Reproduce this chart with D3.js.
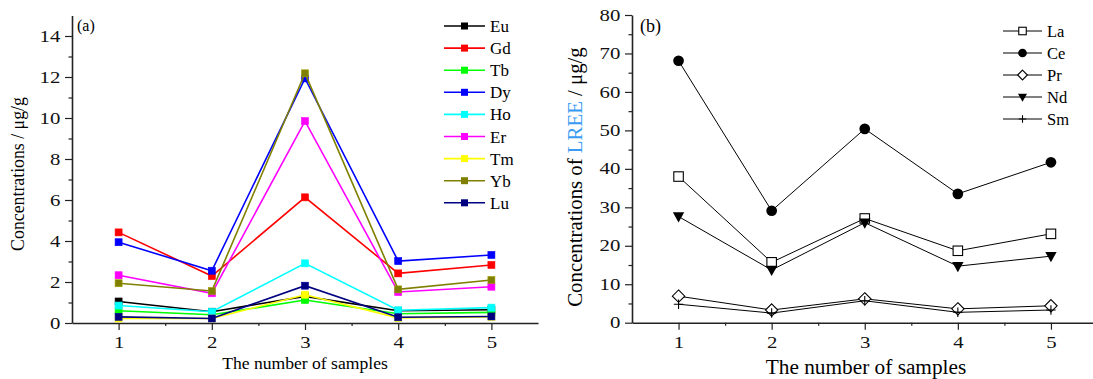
<!DOCTYPE html>
<meta charset="utf-8">
<script src="https://d3js.org/d3.v7.min.js"></script>
<style>
	body { margin: 0; background: #fff; }
	svg { display: block; font-family: "Liberation Serif", "Times New Roman", serif; }
	.axis path, .axis line { stroke: #222; }
	.axis path { stroke-width: 1.6px; }
	.axis line { stroke-width: 1.2px; }
	.axis text { fill: #111; font-family: "Liberation Serif", "Times New Roman", serif; }
</style>
<body>
	<div id="chart"></div>
</body>
<script>
	// samples on the x axis
	const samples = [1, 2, 3, 4, 5];
	const xTicks = [1, 2, 3, 4, 5];

	// (a) heavy REE, ug/g
	const hreeNames = ["Eu", "Gd", "Tb", "Dy", "Ho", "Er", "Tm", "Yb", "Lu"];
	const hreeColors = ["#000000", "#ff0000", "#00ff00", "#0000ff", "#00ffff", "#ff00ff", "#ffff00", "#808000", "#000080"];
	const Eu = [1.05, 0.55, 1.3, 0.6, 0.65];
	const Gd = [4.42, 2.29, 6.13, 2.42, 2.83];
	const Tb = [0.6, 0.4, 1.12, 0.45, 0.52];
	const Dy = [3.94, 2.55, 11.93, 3.02, 3.32];
	const Ho = [0.85, 0.55, 2.91, 0.62, 0.75];
	const Er = [2.33, 1.45, 9.85, 1.51, 1.77];
	const Tm = [0.22, 0.22, 1.38, 0.25, 0.3];
	const Yb = [1.94, 1.56, 12.18, 1.64, 2.1];
	const Lu = [0.3, 0.22, 1.82, 0.28, 0.32];
	const hreeValues = [Eu, Gd, Tb, Dy, Ho, Er, Tm, Yb, Lu];
	const yTicksA = [0, 2, 4, 6, 8, 10, 12, 14];

	// (b) light REE, ug/g
	const lreeNames = ["La", "Ce", "Pr", "Nd", "Sm"];
	const lreeSymbols = ["square", "circle", "diamond", "triangle", "plus"];
	const La = [38.0, 15.7, 27.1, 18.7, 23.1];
	const Ce = [68.1, 29.1, 50.4, 33.5, 41.7];
	const Pr = [6.9, 3.3, 6.2, 3.6, 4.4];
	const Nd = [27.6, 13.7, 26.0, 14.7, 17.3];
	const Sm = [4.8, 2.5, 5.7, 2.7, 3.3];
	const lreeValues = [La, Ce, Pr, Nd, Sm];
	const yTicksB = [0, 10, 20, 30, 40, 50, 60, 70, 80];

	const width = 1093, height = 379;

	const svg = d3.select("#chart").append("svg")
		.attr("width", width)
		.attr("height", height);

	svg.append("rect").attr("width", width).attr("height", height).attr("fill", "#fff");

	// tick labels in the figure are drawn a bit wide
	const stretch = 1.3;

	// draws the two axes with minor ticks
	function drawAxes(g, x, y, yTicks, yMinor, fontSize) {
		const xMinor = [1.5, 2.5, 3.5, 4.5];
		g.append("g").attr("class", "axis")
			.attr("transform", "translate(0," + y.range()[0] + ")")
			.call(d3.axisBottom(x).tickValues(xMinor).tickSize(3).tickFormat(""))
			.select(".domain").remove();
		g.append("g").attr("class", "axis")
			.attr("transform", "translate(0," + y.range()[0] + ")")
			.call(d3.axisBottom(x).tickValues(xTicks).tickFormat(d3.format("d"))
				.tickSize(7).tickSizeOuter(0).tickPadding(7))
			.selectAll("text")
			.style("font-size", fontSize + "px")
			.attr("transform", "scale(" + stretch + ",1)");
		g.append("g").attr("class", "axis")
			.attr("transform", "translate(" + x.range()[0] + ",0)")
			.call(d3.axisLeft(y).tickValues(yMinor).tickSize(3.5).tickFormat(""))
			.select(".domain").remove();
		g.append("g").attr("class", "axis")
			.attr("transform", "translate(" + x.range()[0] + ",0)")
			.call(d3.axisLeft(y).tickValues(yTicks).tickFormat(d3.format("d"))
				.tickSize(7).tickSizeOuter(0).tickPadding(2))
			.selectAll("text")
			.style("font-size", fontSize + "px")
			.attr("transform", "scale(" + stretch + ",1)");
	}

	// ---------- panel (a) ----------
	const xA = d3.scaleLinear().domain([0.5, 5.5]).range([72, 538]);
	const yA = d3.scaleLinear().domain([0, 15]).range([323, 15.5]);
	const gA = svg.append("g");

	drawAxes(gA, xA, yA, yTicksA, d3.range(1, 15, 2), 16);

	const lineA = d3.line()
		.x(function(d, i) { return xA(samples[i]); })
		.y(function(d) { return yA(d); });

	hreeValues.forEach(function(vals, k) {
		const s = gA.append("g");
		s.append("path")
			.attr("d", lineA(vals))
			.attr("fill", "none")
			.attr("stroke", hreeColors[k])
			.attr("stroke-width", 1.6);
		s.selectAll("rect")
			.data(vals)
			.enter().append("rect")
			.attr("x", function(d, i) { return xA(samples[i]) - 3.5; })
			.attr("y", function(d) { return yA(d) - 3.5; })
			.attr("width", 7)
			.attr("height", 7)
			.attr("fill", hreeColors[k])
			.attr("stroke", d3.color(hreeColors[k]).brighter(0.6))
			.attr("stroke-width", 0.6);
	});

	gA.append("text").attr("x", 77).attr("y", 31)
		.style("font-size", "16px").text("(a)");

	gA.append("text")
		.attr("transform", "translate(23.5,174) rotate(-90)")
		.attr("text-anchor", "middle")
		.style("font-size", "17.8px")
		.text("Concentrations / μg/g");

	gA.append("text")
		.attr("x", 305).attr("y", 369)
		.attr("text-anchor", "middle")
		.style("font-size", "17.6px")
		.text("The number of samples");

	// legend (a)
	const legA = gA.append("g").attr("transform", "translate(444,26)");
	hreeNames.forEach(function(name, k) {
		const row = legA.append("g").attr("transform", "translate(0," + (k * 22.1) + ")");
		row.append("line").attr("x1", 0).attr("x2", 41)
			.attr("stroke", hreeColors[k]).attr("stroke-width", 1.6);
		row.append("rect").attr("x", 17).attr("y", -3.5).attr("width", 7).attr("height", 7)
			.attr("fill", hreeColors[k]);
		row.append("text").attr("x", 46).attr("y", 6)
			.style("font-size", "17px").text(name);
	});

	// ---------- panel (b) ----------
	const xB = d3.scaleLinear().domain([0.5, 5.5]).range([632, 1097.5]);
	const yB = d3.scaleLinear().domain([0, 80]).range([322.7, 15]);
	const gB = svg.append("g");

	drawAxes(gB, xB, yB, yTicksB, d3.range(5, 80, 10), 16);

	const lineB = d3.line()
		.x(function(d, i) { return xB(samples[i]); })
		.y(function(d) { return yB(d); });

	// marker shapes, size in px
	function marker(sel, type, size) {
		if (type === "square") {
			sel.append("rect").attr("x", -size / 2).attr("y", -size / 2)
				.attr("width", size).attr("height", size)
				.attr("fill", "#fff").attr("stroke", "#000").attr("stroke-width", 1.1);
		} else if (type === "circle") {
			sel.append("circle").attr("r", size / 2 + 0.6).attr("fill", "#000");
		} else if (type === "diamond") {
			const h = size * 0.65;
			sel.append("path").attr("d", "M0," + (-h) + "L" + h + ",0L0," + h + "L" + (-h) + ",0Z")
				.attr("fill", "#fff").attr("stroke", "#000").attr("stroke-width", 1.1);
		} else if (type === "triangle") {
			const h = size * 0.6;
			sel.append("path").attr("d", "M" + (-h) + "," + (-h * 0.75) + "L" + h + "," + (-h * 0.75) + "L0," + (h * 1.05) + "Z")
				.attr("fill", "#000");
		} else {
			const h = size / 2;
			sel.append("path").attr("d", "M" + (-h) + ",0H" + h + "M0," + (-h) + "V" + h)
				.attr("stroke", "#000").attr("stroke-width", 1.1);
		}
	}

	lreeValues.forEach(function(vals, k) {
		const s = gB.append("g");
		s.append("path")
			.attr("d", lineB(vals))
			.attr("fill", "none")
			.attr("stroke", "#000")
			.attr("stroke-width", 1);
		vals.forEach(function(v, i) {
			const m = s.append("g").attr("transform", "translate(" + xB(samples[i]) + "," + yB(v) + ")");
			marker(m, lreeSymbols[k], 9.5);
		});
	});

	gB.append("text").attr("x", 640).attr("y", 32)
		.style("font-size", "18px").text("(b)");

	const titleB = gB.append("text")
		.attr("transform", "translate(582,177) rotate(-90)")
		.attr("text-anchor", "middle")
		.style("font-size", "20.8px");
	titleB.append("tspan").text("Concentrations of ");
	titleB.append("tspan").attr("fill", "#3a9bf2").text("LREE");
	titleB.append("tspan").text(" / μg/g");

	gB.append("text")
		.attr("x", 866).attr("y", 374)
		.attr("text-anchor", "middle")
		.style("font-size", "21.3px")
		.text("The number of samples");

	// legend (b)
	const legB = gB.append("g").attr("transform", "translate(1003,31)");
	lreeNames.forEach(function(name, k) {
		const row = legB.append("g").attr("transform", "translate(0," + (k * 22) + ")");
		row.append("line").attr("x1", 0).attr("x2", 39)
			.attr("stroke", "#000").attr("stroke-width", 1);
		marker(row.append("g").attr("transform", "translate(19.5,0)"), lreeSymbols[k], 7.5);
		row.append("text").attr("x", 44).attr("y", 5.5)
			.style("font-size", "16.5px").text(name);
	});
</script>
